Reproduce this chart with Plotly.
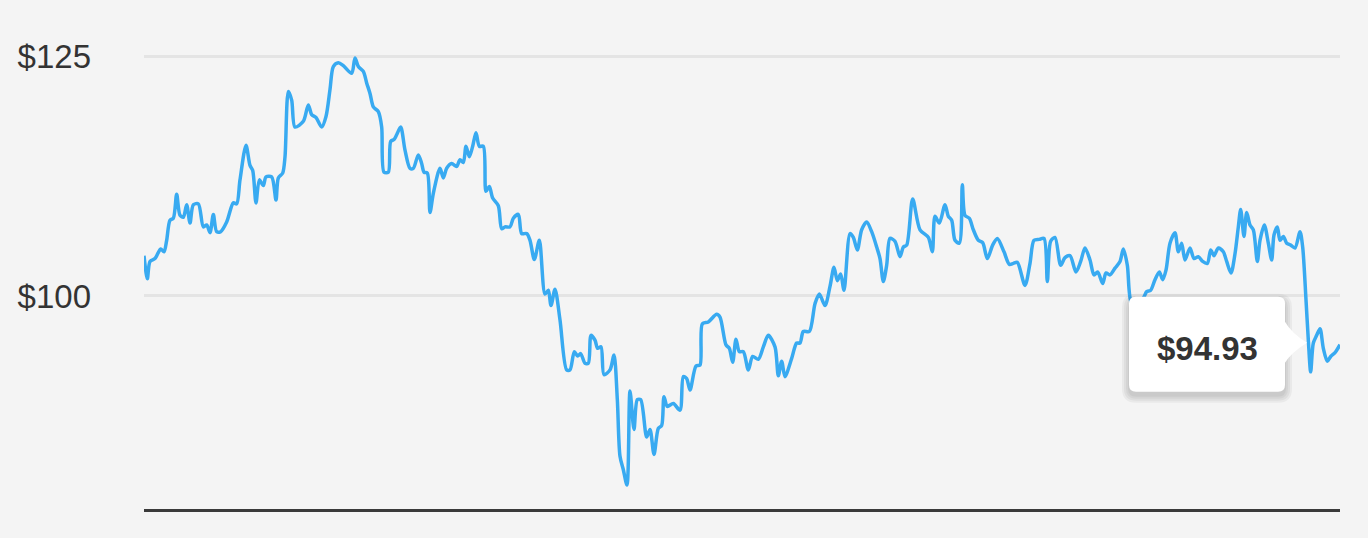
import plotly.graph_objects as go

# dias desde o início do período e preço de fechamento
dias = [
    0.0, 1.0, 1.8, 3.3, 5.0, 6.0, 6.8, 7.8, 8.8, 9.8, 10.8, 11.8, 12.8, 13.8, 14.8, 16.3,
    17.8, 18.8, 19.8, 20.8, 21.8, 23.0, 24.8, 26.8, 27.8, 28.8, 30.6, 31.8, 32.6, 33.6,
    34.6, 35.8, 36.6, 38.3, 39.6, 40.3, 41.6, 42.3, 43.3, 44.3, 45.3, 47.8, 49.3, 50.3,
    51.6, 53.3, 54.6, 55.8, 56.8, 58.3, 59.8, 62.3, 63.3, 64.3, 65.8, 66.8, 67.8, 68.8,
    70.3, 71.3, 72.0, 73.3, 74.0, 75.0, 75.8, 77.0, 78.3, 79.8, 80.8, 82.3, 83.3, 84.0,
    85.0, 85.8, 86.8, 88.8, 89.8, 90.8, 92.3, 93.8, 94.8, 95.8, 96.6, 97.6, 98.6, 99.6,
    100.6, 101.8, 102.6, 103.6, 104.6, 106.3, 107.3, 108.3, 109.8, 110.8, 112.3, 113.3,
    114.8, 115.8, 117.1, 118.6, 120.3, 121.3, 122.1, 123.3, 124.8, 126.8, 127.8, 129.1,
    130.1, 131.0, 132.3, 133.3, 134.1, 135.3, 136.1, 137.1, 138.0, 139.8, 141.0, 142.0,
    142.8, 143.8, 144.9, 145.8, 147.0, 148.0, 149.0, 150.8, 151.8, 153.0, 154.3, 155.3,
    156.0, 157.0, 158.8, 160.8, 161.8, 162.8, 163.8, 165.6, 166.8, 167.5, 169.3, 171.8,
    172.8, 174.6, 175.6, 176.6, 177.6, 178.6, 179.8, 181.3, 182.6, 184.3, 185.8, 187.3,
    189.3, 190.3, 191.3, 192.3, 194.3, 195.8, 196.8, 197.8, 199.6, 201.3, 202.6, 204.3,
    205.8, 207.0, 208.0, 209.0, 210.0, 211.8, 212.8, 214.0, 215.3, 216.8, 218.3, 219.8,
    220.8, 221.8, 222.8, 223.8, 225.3, 226.8, 227.8, 228.8, 230.6, 232.8, 235.3, 236.5,
    237.3, 238.6, 240.3, 241.3, 242.3, 243.3, 244.6, 245.5, 246.3, 247.6, 248.8, 250.3,
    251.6, 253.0, 254.6, 256.0, 258.0, 259.6, 260.8, 262.0, 264.3, 265.8, 267.0, 268.6,
    270.0, 271.0, 272.0, 273.3, 275.0, 276.3, 277.8, 279.6, 281.0, 282.3, 283.8, 285.0,
    286.1, 287.6, 288.6, 289.8, 291.3, 292.8, 293.8, 295.0, 296.1, 297.9, 300.0, 300.8,
    302.0, 303.3, 304.6, 305.6, 306.6, 307.8, 309.3, 310.3, 311.3, 312.3, 313.8, 315.0,
    316.3, 317.6, 319.0, 320.0, 321.0, 322.3, 323.8, 324.8, 326.1, 327.3, 328.3, 329.0,
    330.0, 330.8, 331.8, 332.8, 334.0, 334.8, 336.1, 337.3, 338.3, 339.0, 340.0, 340.8,
    341.8, 342.8, 344.0, 345.3, 346.8, 347.6, 348.6, 349.3, 350.0, 350.8, 351.8, 352.8,
    353.8, 355.0, 356.0, 357.3, 358.8,
]

precos = [
    104.2, 101.8, 103.6, 103.9, 104.9, 104.6, 105.8, 107.9, 108.1, 110.6, 108.4, 108.2, 109.5, 107.6, 109.5, 109.6,
    107.2, 107.4, 106.6, 108.5, 106.7, 106.7, 107.7, 109.7, 109.6, 112.1, 115.7, 113.6, 113.1, 109.7,
    112.1, 111.5, 112.4, 112.4, 110.0, 112.3, 112.8, 114.5, 121.3, 120.4, 117.6, 118.2, 119.9, 118.9,
    118.6, 117.6, 118.7, 121.5, 123.9, 124.3, 124.0, 123.2, 124.8, 123.9, 123.4, 122.2, 121.1, 119.7,
    119.2, 117.6, 112.9, 112.9, 116.1, 116.3, 116.8, 117.6, 115.2, 113.3, 113.3, 114.7, 113.8, 112.9,
    112.8, 108.7, 110.7, 113.3, 112.3, 113.3, 113.8, 113.5, 114.2, 113.9, 115.6, 114.5, 115.6, 117.0,
    115.6, 115.6, 110.9, 111.4, 110.2, 109.4, 107.0, 107.2, 107.2, 108.1, 108.5, 106.5,
    106.5, 105.8, 103.8, 105.8, 100.2, 100.6, 99.0, 100.7, 97.5, 92.3, 92.3, 94.2,
    93.75, 94.0, 93.0, 93.0, 95.9, 95.4, 94.55, 94.7, 91.8, 92.3, 93.85, 89.2,
    83.3, 81.9, 80.3, 90.1, 86.1, 89.2, 89.2, 85.3, 86.1, 83.5, 86.2, 86.5,
    89.5, 88.5, 88.8, 88.1, 91.6, 91.4, 90.2, 92.7, 92.8, 97.1, 97.3, 98.1,
    97.8, 94.9, 94.55, 93.1, 95.5, 94.2, 94.2, 92.3, 93.7, 93.4, 94.7, 95.9,
    94.7, 91.7, 93.2, 91.6, 93.5, 95.1, 95.1, 96.3, 96.3, 99.2, 100.2, 99.0,
    101.0, 103.0, 101.6, 102.3, 100.6, 106.5, 106.1, 104.8, 106.9, 107.7, 106.7, 105.1,
    103.9, 101.5, 103.2, 106.0, 105.7, 104.1, 105.1, 105.3, 110.1, 106.9, 106.1, 104.6,
    108.3, 107.6, 109.5, 108.3, 107.9, 105.8, 105.5, 111.6, 108.4, 108.1, 106.9, 105.8,
    105.55, 103.9, 105.3, 106.0, 104.6, 103.3, 103.4, 103.5, 101.1, 103.4, 105.8, 105.9,
    106.0, 101.5, 105.7, 106.1, 103.2, 104.0, 104.2, 102.5, 103.6, 105.0, 103.75, 102.2,
    102.5, 101.3, 102.4, 102.2, 102.9, 103.6, 104.9, 103.2, 99.4, 98.8, 99.9, 100.45,
    100.6, 101.7, 102.5, 101.7, 102.7, 105.5, 106.6, 104.6, 105.5, 103.75, 105.0, 103.9,
    104.1, 103.6, 103.4, 104.8, 104.2, 105.0, 104.6, 103.6, 102.4, 104.4, 107.2, 109.0,
    106.2, 108.7, 107.4, 106.9, 103.6, 105.8, 107.4, 105.5, 103.75, 106.35, 107.2, 105.8,
    106.2, 105.5, 105.3, 105.0, 106.7, 105.1, 99.6, 95.4, 92.1, 95.1, 95.9, 96.6,
    94.55, 93.2, 93.7, 94.1, 94.93,
]

ticks_y = [100, 125]
ticks_y_texto = ["$100", "$125"]

COR_LINHA = "#38aaf1"
COR_FUNDO = "#f4f4f4"
COR_TEXTO = "#333333"
FONTE = "Liberation Sans, Arial, sans-serif"

fig = go.Figure()

fig.add_trace(go.Scatter(
    x=dias,
    y=precos,
    mode="lines",
    line=dict(color=COR_LINHA, width=3.5, shape="spline", smoothing=0.8),
    hoverinfo="skip",
    showlegend=False,
))

# tooltip ancorado no último ponto (caminho em pixels relativo à âncora)
ultimo_x, ultimo_y = dias[-1], precos[-1]


def caixa(dx0, dx1, dy0, dy1, r, cauda=True):
    # retângulo arredondado com cauda apontando para a direita
    p = f"M {dx0 + r},{dy1} L {dx1 - r},{dy1} Q {dx1},{dy1} {dx1},{dy1 - r} "
    if cauda:
        p += f"L {dx1},23 Q {dx1 + 6},12 {dx1 + 22},2 Q {dx1 + 6},-8 {dx1},-18 "
    p += (f"L {dx1},{dy0 + r} Q {dx1},{dy0} {dx1 - r},{dy0} "
          f"L {dx0 + r},{dy0} Q {dx0},{dy0} {dx0},{dy0 + r} "
          f"L {dx0},{dy1 - r} Q {dx0},{dy1} {dx0 + r},{dy1} Z")
    return p


# sombra suave (camadas semitransparentes deslocadas para baixo)
sombras = []
for e in [7, 5, 3, 1]:
    sombras.append(dict(
        type="path", xref="x", yref="y", xsizemode="pixel", ysizemode="pixel",
        xanchor=ultimo_x, yanchor=ultimo_y,
        path=caixa(-211 - e, -55 + e, -47 - e - 4, 48 + e - 4, 7 + e, cauda=False),
        fillcolor="rgba(0,0,0,0.045)", line=dict(width=0), layer="above",
    ))

fig.update_layout(shapes=sombras + [dict(
    type="path", xref="x", yref="y", xsizemode="pixel", ysizemode="pixel",
    xanchor=ultimo_x, yanchor=ultimo_y,
    path=caixa(-211, -55, -47, 48, 7),
    fillcolor="white", line=dict(width=0), layer="above",
)])

fig.add_annotation(
    x=ultimo_x, y=ultimo_y, xref="x", yref="y",
    text=f"<b>${ultimo_y:.2f}</b>",
    showarrow=False, xshift=-133, yshift=-4,
    font=dict(family=FONTE, size=33, color=COR_TEXTO),
)

fig.update_layout(
    width=1368,
    height=538,
    margin=dict(l=144, r=28, t=30, b=29),
    paper_bgcolor=COR_FUNDO,
    plot_bgcolor=COR_FUNDO,
    font=dict(family=FONTE, size=33, color=COR_TEXTO),
    xaxis=dict(
        range=[0, 358.8],
        showgrid=False,
        zeroline=False,
        showticklabels=False,
        showline=True,
        linecolor="#3a3a3a",
        linewidth=3,
        fixedrange=True,
    ),
    yaxis=dict(
        range=[77.81, 127.71],
        tickvals=ticks_y,
        ticktext=ticks_y_texto,
        showgrid=True,
        gridcolor="#e4e4e4",
        gridwidth=3,
        zeroline=False,
        showline=False,
        ticks="",
        ticklabelstandoff=52,
        automargin=False,
        fixedrange=True,
    ),
    hovermode=False,
)

# remove a margem padrão do <body> para a figura ocupar a janela inteira
fig.write_html(
    "out.html",
    config={"displayModeBar": False, "staticPlot": True},
    post_script="document.body.style.margin='0';document.body.style.background='#f4f4f4';",
)
